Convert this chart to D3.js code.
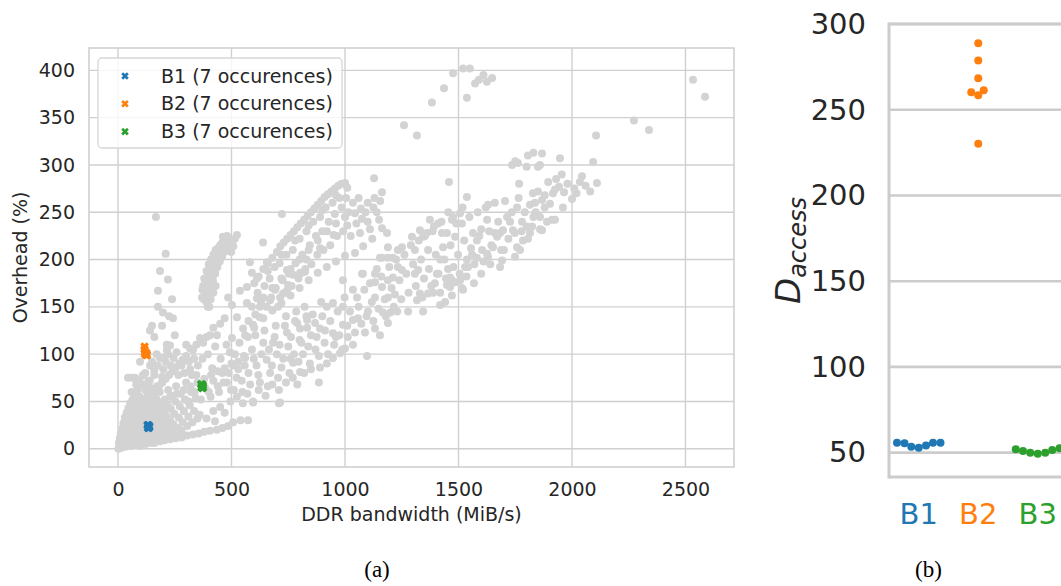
<!DOCTYPE html>
<html>
<head>
<meta charset="utf-8">
<script src="https://cdn.jsdelivr.net/npm/d3@7"></script>
<style>
  body { margin: 0; background: #fff; }
</style>
</head>
<body>
<script>
// ---------- data ----------
const xTicks = [0, 500, 1000, 1500, 2000, 2500]
const yTicks = [0, 50, 100, 150, 200, 250, 300, 350, 400]
const dTicks = [50, 100, 150, 200, 250, 300]
const categories = ['B1', 'B2', 'B3']
const colors = ['#1f77b4', '#ff7f0e', '#2ca02c']
const legendLabels = ['B1 (7 occurences)', 'B2 (7 occurences)', 'B3 (7 occurences)']

// highlighted basic blocks in panel (a): [bandwidth, overhead]
const b1Points = [[130,25],[134,25],[138,24],[132,22],[136,22],[134,23],[137,23]]
const b2Points = [[117,108],[117,105],[118,102],[119,100],[124,99],[128,99],[126,101]]
const b3Points = [[366,68],[370,68],[374,67],[368,65],[372,64],[370,66],[375,65]]

// D_access values in panel (b)
const b1Access = [55.8, 55.5, 53.5, 52.9, 54.1, 55.8, 55.8]
const b2Access = [288.8, 278.7, 268.4, 260.2, 258.5, 261.4, 230.2]
const b3Access = [52.0, 51.6, 50.0, 49.4, 50.0, 51.0, 52.6]

// gray background points, grouped by the bands they form
const grayOrigin = [[2,0],[4,6],[6,2],[8,11],[10,4],[12,16],[14,1],[16,8],[18,21],[20,3],[22,12],[24,27],[26,6],[28,17],[30,33],[32,2],[34,10],[36,23],[38,38],[40,5],[42,15],[44,29],[46,43],[48,8],[50,20],[52,34],[54,48],[56,3],[58,12],[60,26],[62,40],[64,52],[66,7],[68,18],[70,31],[72,45],[74,58],[76,4],[78,14],[80,24],[82,37],[84,50],[86,62],[88,9],[90,20],[92,30],[94,42],[96,55],[98,3],[100,13],[102,25],[104,36],[106,47],[108,68],[110,8],[112,18],[114,30],[116,40],[118,52],[120,62],[122,5],[124,14],[126,24],[128,34],[130,45],[132,57],[134,72],[136,10],[138,19],[140,28],[142,38],[144,50],[146,64],[148,6],[150,15],[152,24],[154,33],[156,44],[158,56],[160,78],[162,11],[164,20],[166,29],[168,40],[170,52],[172,66],[174,8],[176,17],[178,26],[180,36],[182,47],[184,60],[186,13],[188,22],[190,32],[192,43],[194,70],[196,10],[198,18],[200,28],[203,39],[206,52],[209,15],[212,24],[215,34],[218,46],[221,62],[224,12],[227,20],[230,30],[233,42],[236,56],[240,17],[244,26],[248,37],[252,50],[256,66],[260,14],[264,22],[268,33],[272,45],[276,58],[280,19],[285,28],[290,40],[295,52],[300,70],[305,24],[310,34],[316,46],[322,60],[328,28],[335,40],[342,53],[350,32],
    [60,60],[80,68],[95,72],[110,78],[125,65],[140,72],[150,92],[160,82],[175,88],[185,96],[200,84],[210,92],[220,100],[232,88],[245,96],[258,102],[266,78],[280,88],[292,80],[300,110],[312,92],[318,84],[335,95],[345,78]]

const grayLowBand = [[160,6],[185,8],[205,9],[230,10],[255,11],[280,12],[305,14],[330,15],[355,16],[380,18],[405,19],[427,29],[436,20],[460,22],[485,24],[507,28],[540,30],[573,30],[360,36],[390,32],[420,40],[450,44],[470,38],[495,50],[524,55],[550,48],[570,58],[595,50],[620,62],[650,56],[680,68],[709,48],[709,62],[740,70],[770,75],[790,68],[820,80],[850,84],[885,70],[890,86],[920,90],[947,96],[978,101],[1000,106],[1035,110],[1057,138],[1044,123],[1088,123],[1097,98],[1101,145],[1132,127],[1154,120],[1189,133],[1167,144],[1200,144],[1230,145],[1278,145],[1053,160],[1132,160],[1163,171],[1189,160],[1220,163],[1317,157],[1340,160],[1366,164],[1344,145],[1388,165],[1419,165],[1419,152],[1441,155],[1471,162],[1449,173],[1485,176],[1515,170],[1507,178],[1568,175],[1330,164],[1463,171],[1520,168],[1600,185],[1640,195],[1683,192],[1692,199],[1700,210],[1749,203],[1771,210],[1784,220],[1806,222],[1824,235],[1859,232],[1890,240],[1925,242],[1912,242],[1960,255],[2000,264],[2020,270]]

const grayWedge = [[683,112],[744,123],[802,127],[890,127],[947,122],[991,131],[802,81],[771,91],[714,49],[595,49],[493,102],[502,117],[551,127],[595,131],[400,60],[420,72],[440,66],[460,80],[480,70],[500,90],[510,62],[530,84],[545,72],[560,96],[575,80],[590,105],[610,88],[625,70],[640,112],[655,94],[670,80],[690,118],[700,100],[720,86],[735,130],[750,108],[760,95],[780,135],[800,115],[815,100],[830,140],[850,120],[868,133],[870,105],[900,140],[910,112],[920,150],[947,154],[960,118],[991,150],[1010,130],[1035,136],[1035,168],[991,178],[833,128],[833,136],[789,133],[714,160],[744,167],[802,186],[824,187],[744,189],[656,197],[568,154],[568,171],[537,167],[485,160],[502,152],[524,139],[612,159],[625,139],[625,150],[670,157],[692,168],[727,164],[749,173],[810,186],[612,180],[581,197],
    [310,50],[325,78],[338,60],[352,88],[365,52],[372,95],[385,64],[396,100],[408,55],[415,85],[428,108],[445,60],[452,95],[465,70],[478,110],[488,80],[498,62],[515,100],[522,75],[535,112],[548,60],[558,88],[572,118],[582,68],[598,95],[605,120],[618,78],[632,100],[645,125],[660,66],[665,105],[678,88],[695,130],[705,75],[712,110],[728,95],[740,140],[755,80],[762,118],[775,100],[785,145],[795,92],[808,112],[822,150],[838,108],[845,90],[858,142],[875,118],[885,98],[895,155],[912,125],[925,100],[935,135],[952,110],[968,145],[975,120],[988,105],[998,160],[1012,118],[1022,145]]

const grayRightBand = [[1079,185],[1132,176],[1132,185],[1075,185],[1163,202],[1189,202],[1154,202],[1211,181],[1211,202],[1189,178],[1233,192],[1251,189],[1308,185],[1322,189],[1189,213],[1233,210],[1251,213],[1295,224],[1308,210],[1330,231],[1352,225],[1366,210],[1374,242],[1344,224],[1386,230],[1410,238],[1396,175],[1405,185],[1420,200],[1432,213],[1454,190],[1463,181],[1471,178],[1427,228],[1449,228],[1471,242],[1476,245],[1485,224],[1507,249],[1515,238],[1529,192],[1537,200],[1542,192],[1560,205],[1581,202],[1581,220],[1564,228],[1600,232],[1604,210],[1626,206],[1626,242],[1630,203],[1652,213],[1660,228],[1670,224],[1683,228],[1696,231],[1714,245],[1727,240],[1740,231],[1758,213],[1758,255],[1780,240],[1815,228],[1830,245],[1859,245],[1868,231],[1837,260],[1868,263],[1880,268],[1903,259],[1916,270],[1925,274],[1943,277],[1965,271],[1828,270],[1859,300],[1806,310],[1830,313],[1868,312],[1850,298],[1800,298],[1736,300],[1750,304],[1762,302],[1767,280],[1947,307],[2044,288],[2093,303],[2110,281],[1537,266],[1630,258],[1458,282],[1128,286],
    [1060,150],[1072,132],[1085,168],[1095,140],[1110,175],[1118,155],[1125,135],[1140,190],[1148,148],[1160,182],[1175,158],[1180,140],[1195,192],[1205,170],[1215,150],[1225,200],[1240,178],[1248,158],[1262,205],[1270,185],[1280,165],[1290,215],[1300,195],[1312,172],[1325,220],[1335,200],[1348,180],[1360,228],[1370,190],[1380,172],[1392,235],[1400,205],[1412,185],[1425,240],[1438,200],[1445,180],[1455,250],[1465,215],[1478,192],[1490,238],[1498,205],[1505,185],[1518,255],[1525,220],[1535,182],[1548,245],[1555,212],[1570,195],[1585,250],[1592,225],[1610,198],[1620,255],[1635,230],[1645,215],[1660,260],[1675,240],[1688,210],[1705,262],[1720,222],[1735,250],[1748,228],[1765,265],[1778,230],[1792,250],[1800,235],[1815,258],[1840,250],[1850,272],[1880,255],[1895,282],[1930,285],[1955,290],[1980,280],[2010,275],[2035,282],[2060,278],[2080,272]]

const graySteep = [[167,245],[210,206],[185,188],[220,179],[176,167],[238,158],[176,150],[198,144],[225,140],[242,138],[150,130],[194,130],[141,125],[160,118],[215,110],[215,104],[198,96],[97,92],[141,88],[44,75],[60,75],[75,75],[106,67],[194,76],[229,109],[250,120],[120,80],[170,100],[111,50],[130,54],[150,58],[165,62],[180,66],[195,70],[210,74],[225,78],[240,82],[255,86],[270,90],[285,94],[300,98],[317,106],[330,104],[345,110],[361,117],[375,112],[390,118],[405,120],[436,120],[420,128],[450,132],[470,138],[141,43],[170,46],[200,50],[230,55],[260,58],[290,62],[320,66],[350,70],[380,74],[410,78],[440,82],[470,85],[507,88],[530,92],[555,98],[370,160],[375,172],[380,180],[385,165],[390,188],[395,176],[400,195],[405,183],[410,200],[415,190],[420,205],[425,196],[430,210],[435,200],[440,212],[445,204],[450,215],[455,208],[460,218],[465,212],[470,222],[475,214],[480,225],[485,218],[390,155],[398,162],[402,150],[410,170],[418,178],[428,185],[438,192],[448,198],[458,203],[468,208],[478,210],[490,212],[500,215],[505,220],[524,226],[639,218],[722,248],[590,186],
    [372,168],[378,158],[384,176],[392,170],[396,186],[404,176],[408,192],[414,182],[420,196],[426,188],[432,204],[438,198],[444,210],[452,202],[458,212],[462,224],[472,216],[482,220],[490,222],[498,208],[508,214],[515,222],[395,150],[408,158],[420,165],[430,172]]

const grayUpperBands = [[600,175],[620,182],[640,190],[660,196],[680,202],[700,208],[715,214],[730,218],[745,222],[760,226],[775,230],[790,234],[805,238],[820,242],[835,246],[850,250],[865,254],[880,258],[895,262],[910,266],[925,269],[940,272],[955,275],[970,278],[985,280],[1000,281],[1010,276],[960,268],[900,252],[840,236],[780,220],[720,205],[660,188],[640,160],[680,170],[720,180],[760,190],[800,200],[840,210],[880,220],[920,230],[960,238],[1000,245],[1044,249],[1070,254],[1100,260],[1130,265],[1163,271],[1010,236],[950,226],[890,212],[830,200],[770,184],[560,120],[600,128],[640,138],[680,146],[720,154],[760,162],[800,170],[840,178],[880,186],[920,192],[960,198],[1000,204],[1044,207],[1080,214],[1120,222],[1163,233],[1185,228],[1066,228],[1100,240],[1140,250],
    [575,135],[590,150],[605,142],[615,165],[630,155],[645,172],[655,150],[668,180],[675,160],[690,192],[695,170],[705,150],[712,196],[725,178],[738,165],[742,205],[752,185],[765,172],[770,210],[782,196],[795,180],[800,222],[812,205],[825,190],[830,230],[845,215],[852,195],[860,240],[872,225],[878,205],[890,245],[900,230],[905,210],[915,255],[928,240],[935,215],[945,260],[955,248],[965,225],[975,265],[985,255],[992,230],[1005,265],[1015,250],[1025,225],[1035,260],[1050,238],[1060,265],[1075,243],[1090,250],[1110,232],[1125,255],[1150,242],[1155,262]]

const grayTop = [[1260,342],[1317,331],[1383,366],[1436,381],[1476,397],[1520,402],[1550,402],[1537,371],[1573,386],[1590,390],[1610,395],[1625,388],[1648,392],[2106,331],[2273,347],[2339,337],[2533,390],[2586,372]]

const grayPoints = [].concat(grayOrigin, grayLowBand, grayWedge, grayRightBand, graySteep, grayUpperBands, grayTop)

// ---------- layout ----------
const W = 1061, H = 586
const gridColor = '#d0d0d0'
const ink = '#262626'

const svg = d3.select('body').append('svg')
    .attr('width', W)
    .attr('height', H)
    .style('font-family', 'DejaVu Sans, sans-serif')

svg.append('rect').attr('width', W).attr('height', H).attr('fill', '#fff')

// filled "X" marker like matplotlib's
function xMarker(s) {
    const w = s * 0.34
    const pts = [[-s,-w],[-w,-w],[-w,-s],[w,-s],[w,-w],[s,-w],[s,w],[w,w],[w,s],[-w,s],[-w,w],[-s,w]]
    const c = Math.SQRT1_2
    return 'M' + pts.map(p => [(p[0] - p[1]) * c, (p[0] + p[1]) * c].map(v => v.toFixed(2)).join(',')).join('L') + 'Z'
}

// ===== panel (a) =====
const left = {x0: 89, x1: 734, y0: 48, y1: 467}

const xScale = d3.scaleLinear()
    .domain([-127.8, 2713.7])
    .range([left.x0, left.x1])

const yScale = d3.scaleLinear()
    .domain([-19.3, 423.6])
    .range([left.y1, left.y0])

const pa = svg.append('g')

// grid
pa.append('g').selectAll('line').data(xTicks).enter().append('line')
    .attr('x1', d => xScale(d)).attr('x2', d => xScale(d))
    .attr('y1', left.y0).attr('y2', left.y1)
    .attr('stroke', gridColor).attr('stroke-width', 1.4)
pa.append('g').selectAll('line').data(yTicks).enter().append('line')
    .attr('y1', d => yScale(d)).attr('y2', d => yScale(d))
    .attr('x1', left.x0).attr('x2', left.x1)
    .attr('stroke', gridColor).attr('stroke-width', 1.4)

// axes (labels only)
const xAxis = pa.append('g')
    .attr('transform', 'translate(0,' + left.y1 + ')')
    .call(d3.axisBottom(xScale).tickValues(xTicks).tickFormat(d3.format('d')).tickSize(0).tickPadding(16))
const yAxis = pa.append('g')
    .attr('transform', 'translate(' + left.x0 + ',0)')
    .call(d3.axisLeft(yScale).tickValues(yTicks).tickFormat(d3.format('d')).tickSize(0).tickPadding(14))
;[xAxis, yAxis].forEach(a => {
    a.select('.domain').remove()
    a.selectAll('text').attr('font-size', '19px').attr('font-family', 'DejaVu Sans').attr('fill', ink)
})

// gray points
pa.append('g').selectAll('circle').data(grayPoints).enter().append('circle')
    .attr('cx', d => xScale(d[0]))
    .attr('cy', d => yScale(d[1]))
    .attr('r', 4)
    .attr('fill', '#d3d3d3')

// highlighted blocks
;[b1Points, b2Points, b3Points].forEach((pts, i) => {
    pa.append('g').selectAll('path').data(pts).enter().append('path')
        .attr('d', xMarker(4.6))
        .attr('transform', d => 'translate(' + xScale(d[0]) + ',' + yScale(d[1]) + ')')
        .attr('fill', colors[i])
})

// frame
pa.append('rect')
    .attr('x', left.x0).attr('y', left.y0)
    .attr('width', left.x1 - left.x0).attr('height', left.y1 - left.y0)
    .attr('fill', 'none').attr('stroke', gridColor).attr('stroke-width', 1.6)

// axis labels
pa.append('text')
    .attr('x', (left.x0 + left.x1) / 2)
    .attr('y', 521)
    .attr('text-anchor', 'middle')
    .attr('font-size', '19px')
    .attr('fill', ink)
    .text('DDR bandwidth (MiB/s)')
pa.append('text')
    .attr('transform', 'translate(27,' + (left.y0 + left.y1) / 2 + ') rotate(-90)')
    .attr('text-anchor', 'middle')
    .attr('font-size', '19px')
    .attr('fill', ink)
    .text('Overhead (%)')

// legend
const lg = pa.append('g')
lg.append('rect')
    .attr('x', 98).attr('y', 58).attr('width', 244).attr('height', 90)
    .attr('rx', 4)
    .attr('fill', 'white').attr('fill-opacity', 0.8)
    .attr('stroke', '#d6d6d6').attr('stroke-width', 1.3)
legendLabels.forEach((lab, i) => {
    const cy = 76 + i * 27.8
    lg.append('path')
        .attr('d', xMarker(4))
        .attr('transform', 'translate(125,' + cy + ')')
        .attr('fill', colors[i])
    lg.append('text')
        .attr('x', 161).attr('y', cy)
        .attr('dy', '0.35em')
        .attr('font-size', '19px')
        .attr('fill', ink)
        .text(lab)
})

// ===== panel (b) =====
const right = {x0: 889, y0: 24, y1: 477}

const dScale = d3.scaleLinear()
    .domain([35.8, 300])
    .range([right.y1, right.y0])

const cScale = d3.scaleBand()
    .domain(categories)
    .range([right.x0, right.x0 + 59.5 * categories.length])

const pb = svg.append('g')

pb.append('g').selectAll('line').data(dTicks).enter().append('line')
    .attr('x1', right.x0).attr('x2', W)
    .attr('y1', d => dScale(d)).attr('y2', d => dScale(d))
    .attr('stroke', '#cccccc').attr('stroke-width', 2.6)

const dAxis = pb.append('g')
    .attr('transform', 'translate(' + right.x0 + ',0)')
    .call(d3.axisLeft(dScale).tickValues(dTicks).tickSize(0).tickPadding(23))
dAxis.select('.domain').remove()
dAxis.selectAll('text').attr('font-size', '29px').attr('font-family', 'DejaVu Sans').attr('fill', ink)

const cAxis = pb.append('g')
    .attr('transform', 'translate(0,' + right.y1 + ')')
    .call(d3.axisBottom(cScale).tickSize(0).tickPadding(26))
cAxis.select('.domain').remove()
cAxis.selectAll('text')
    .attr('font-size', '29px').attr('font-family', 'DejaVu Sans')
    .style('fill', (d, i) => colors[i])

// spines
pb.append('line')
    .attr('x1', right.x0).attr('x2', right.x0)
    .attr('y1', right.y0 - 1.5).attr('y2', right.y1 + 1.5)
    .attr('stroke', '#cccccc').attr('stroke-width', 3)
pb.append('line')
    .attr('x1', right.x0).attr('x2', W)
    .attr('y1', right.y0).attr('y2', right.y0)
    .attr('stroke', '#cccccc').attr('stroke-width', 3)
pb.append('line')
    .attr('x1', right.x0).attr('x2', W)
    .attr('y1', right.y1).attr('y2', right.y1)
    .attr('stroke', '#cccccc').attr('stroke-width', 3)

// simple beeswarm: lowest values first, each dot goes as close to the centre as it can
function swarm(values, cx, r) {
    const placed = []
    values.slice().sort((a, b) => a - b).forEach(v => {
        const cy = dScale(v)
        for (let k = 0; k < 800; k++) {
            const cands = k === 0 ? [0] : [-k * 0.25, k * 0.25]
            const ok = cands.find(o => placed.every(p => Math.hypot(p.x - (cx + o), p.y - cy) >= 2 * r))
            if (ok !== undefined) { placed.push({x: cx + ok, y: cy}); break }
        }
    })
    return placed
}

;[b1Access, b2Access, b3Access].forEach((vals, i) => {
    const cx = cScale(categories[i]) + cScale.bandwidth() / 2
    pb.append('g').selectAll('circle').data(swarm(vals, cx, 3.7)).enter().append('circle')
        .attr('cx', d => d.x).attr('cy', d => d.y)
        .attr('r', 4)
        .attr('fill', colors[i])
})

// y label D_access
const dl = pb.append('text')
    .attr('transform', 'translate(800,' + (right.y0 + right.y1) / 2 + ') rotate(-90)')
    .attr('text-anchor', 'middle')
    .attr('font-style', 'italic')
    .attr('fill', ink)
dl.append('tspan').attr('font-size', '34px').text('D')
dl.append('tspan').attr('font-size', '24px').attr('dy', 6).text('access')

// ===== captions =====
;[['(a)', 377], ['(b)', 928.5]].forEach(c => {
    svg.append('text')
        .attr('x', c[1]).attr('y', 577)
        .attr('text-anchor', 'middle')
        .style('font-family', 'Liberation Serif, serif')
        .attr('font-size', '23px')
        .attr('fill', '#000')
        .text(c[0])
})
</script>
</body>
</html>
